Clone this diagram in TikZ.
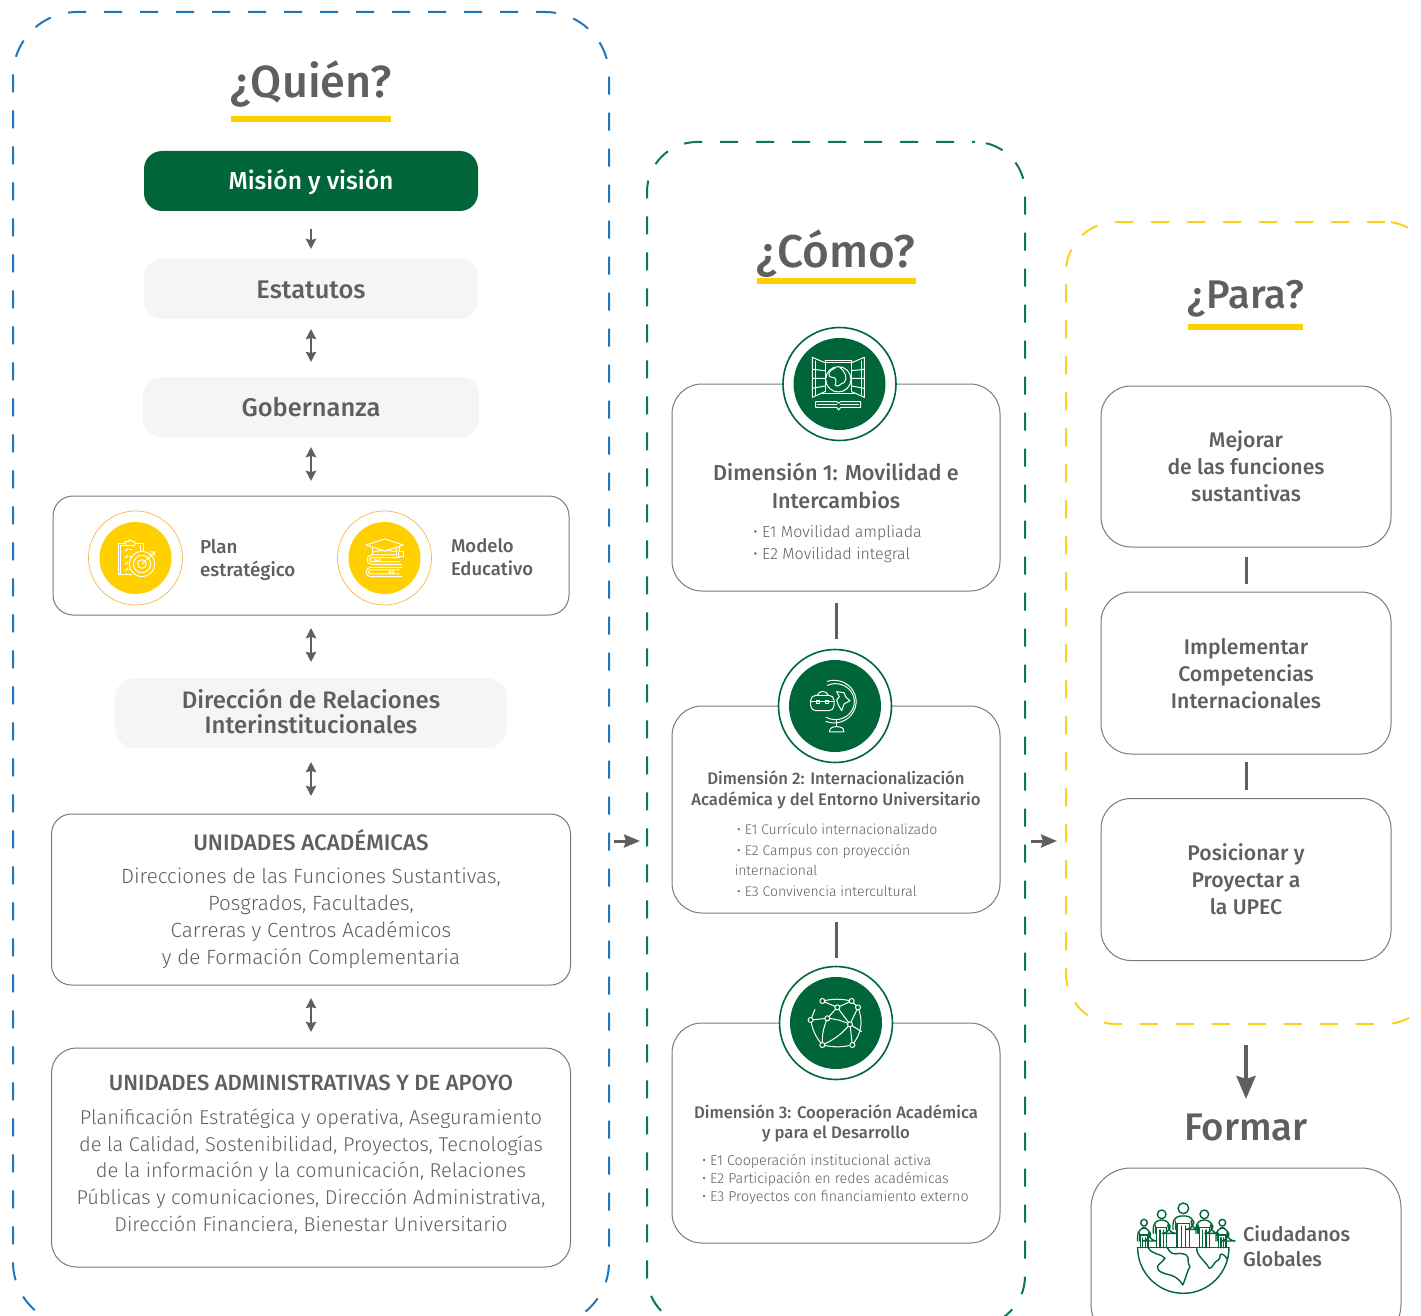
\documentclass[tikz,border=0pt]{standalone}
\usepackage{fontspec}
\setmainfont{Fira Sans}
\newfontfamily\fm{Fira Sans Medium}
\newfontfamily\fl{Fira Sans Light}
\usetikzlibrary{arrows.meta}
\definecolor{txt}{HTML}{5F5F5F}
\definecolor{ugreen}{HTML}{00663A}
\definecolor{uyellow}{HTML}{FFCF00}
\definecolor{dblue}{HTML}{1F76BC}
\definecolor{dgreen}{HTML}{0B7A4B}
\definecolor{dyellow}{HTML}{F8D21E}
\definecolor{softgray}{HTML}{F5F5F5}
\definecolor{linegray}{HTML}{7A7A7A}
\definecolor{orangeline}{HTML}{F6B84E}
\newcommand{\fsz}[1]{\fontsize{#1}{#1}\selectfont}
\newcommand{\fsl}[2]{\fontsize{#1}{#2}\selectfont}
\tikzset{
 x=1pt,y=-1pt,
 every node/.style={inner sep=0pt,outer sep=0pt,text=txt},
 dashbox/.style={draw,line width=2pt,rectangle,rounded corners=#1},
 softbox/.style={fill=softgray,rectangle,rounded corners=18pt},
 linebox/.style={draw=linegray,line width=1pt,fill=white,rectangle,rounded corners=#1},
 dbl/.style={draw=txt,line width=2.6pt,{Stealth[length=10pt,width=10pt,inset=1pt]}-{Stealth[length=10pt,width=10pt,inset=1pt]}},
 sgl/.style={draw=txt,line width=2.6pt,-{Stealth[length=10pt,width=10pt,inset=1pt]}},
 cross/.style={draw=txt,line width=3pt,-{Stealth[length=16pt,width=13pt,inset=2pt]}},
 big/.style={draw=txt,line width=4pt,-{Stealth[length=23pt,width=19pt,inset=3pt]}},
 rule/.style={draw=txt,line width=3pt},
 under/.style={fill=uyellow,rectangle},
 icon/.style={draw=white,line width=1pt,line cap=round,line join=round},
 gicon/.style={draw=ugreen,line width=1.4pt,line cap=round,line join=round},
}
\begin{document}
\begin{tikzpicture}
\clip (0,0) rectangle (1421,1316);
% dashed frames
\node[dashbox=64pt,draw=dblue,dash pattern=on 18pt off 18pt,dash phase=9pt,minimum width=596pt,minimum height=1314pt] (quien) at (311,669) {};
\node[dashbox=50pt,draw=dgreen,dash pattern=on 18pt off 18pt,dash phase=15pt,minimum width=378pt,minimum height=1184pt] (como) at (836,734) {};
\node[dashbox=50pt,draw=dyellow,dash pattern=on 18pt off 18pt,minimum width=369pt,minimum height=802pt] (para) at (1250.5,623) {};
% titles
\node[anchor=base,font=\fm\fsz{45}] (tq) at (311,98) {¿Quién?};
\node[under,minimum width=160pt,minimum height=6pt] (uq) at (311,119) {};
\node[anchor=base,font=\fm\fsz{46}] (tc) at (836,267) {¿Cómo?};
\node[under,minimum width=159pt,minimum height=6pt] (uc) at (836.5,281) {};
\node[anchor=base,font=\fm\fsz{40}] (tp) at (1246,308) {¿Para?};
\node[under,minimum width=115pt,minimum height=6pt] (up) at (1245.5,327) {};
% left column
\node[fill=ugreen,rectangle,rounded corners=18pt,minimum width=334pt,minimum height=60pt] (mision) at (311,181) {};
\node[anchor=base,text=white,font=\fm\fsz{24.6}] (tmision) at (311,190) {Misión y visión};
\node[softbox,minimum width=334pt,minimum height=60pt] (estatutos) at (311,289) {};
\node[anchor=base,font=\fm\fsz{25.5}] (testat) at (311,298) {Estatutos};
\node[softbox,minimum width=336pt,minimum height=60pt] (gober) at (311,407) {};
\node[anchor=base,font=\fm\fsz{25.5}] (tgober) at (311,416) {Gobernanza};
\node[linebox=20pt,minimum width=516pt,minimum height=119pt] (planbox) at (311,555.5) {};
\node[draw=orangeline,line width=0.7pt,circle,minimum size=94pt] (co1) at (135.5,558) {};
\node[fill=uyellow,circle,minimum size=72pt] (ci1) at (135.5,558) {};
\node[draw=orangeline,line width=0.7pt,circle,minimum size=94pt] (co2) at (384.5,558) {};
\node[fill=uyellow,circle,minimum size=72pt] (ci2) at (384.5,558) {};
\node[anchor=west,align=left,font=\fm\fsl{18.8}{23}] (tplan) at (200,559.5) {Plan\\estratégico};
\node[anchor=west,align=left,font=\fm\fsl{18.5}{23}] (tmodelo) at (451,557.5) {Modelo\\Educativo};
\node[softbox,rounded corners=20pt,minimum width=392pt,minimum height=70pt] (dri) at (311,713) {};
\node[anchor=center,align=center,font=\fm\fsl{23.9}{25}] (tdri) at (311,711) {Dirección de Relaciones\\Interinstitucionales};
\node[linebox=20pt,minimum width=519pt,minimum height=171pt] (unid) at (311,899.5) {};
\node[anchor=center,font=\fm\fsz{22.4}] (hunid) at (311,840.5) {UNIDADES ACADÉMICAS};
\node[anchor=center,align=center,font=\fl\fsl{20.6}{27}] (tunid) at (311,918.5) {Direcciones de las Funciones Sustantivas,\\Posgrados, Facultades,\\Carreras y Centros Académicos\\y de Formación Complementaria};
\node[linebox=25pt,minimum width=519pt,minimum height=219pt] (admin) at (311,1157.5) {};
\node[anchor=center,font=\fm\fsz{22}] (hadmin) at (311,1083) {UNIDADES ADMINISTRATIVAS Y DE APOYO};
\node[anchor=center,align=center,font=\fl\fsl{20}{26.8}] (tadmin) at (311,1171.5) {Planificación Estratégica y operativa, Aseguramiento\\de la Calidad, Sostenibilidad, Proyectos, Tecnologías\\de la información y la comunicación, Relaciones\\Públicas y comunicaciones, Dirección Administrativa,\\Dirección Financiera, Bienestar Universitario};
% left arrows
\draw[sgl,shorten <=18pt,shorten >=10pt] (mision.south) -- (estatutos.north);
\draw[dbl,shorten <=10pt,shorten >=15pt] (estatutos.south) -- (gober.north);
\draw[dbl,shorten <=10pt,shorten >=15pt] (gober.south) -- (planbox.north);
\draw[dbl,shorten <=13pt,shorten >=16pt] (planbox.south) -- (dri.north);
\draw[dbl,shorten <=14pt,shorten >=18pt] (dri.south) -- (unid.north);
\draw[dbl,shorten <=13pt,shorten >=16pt] (unid.south) -- (admin.north);
% arrows between frames
\coordinate (a1) at (614,841); \coordinate (a2) at (640,841);
\coordinate (a3) at (1031,841); \coordinate (a4) at (1057,841);
\draw[cross] (a1) -- (a2);
\draw[cross] (a3) -- (a4);
% middle column
\node[linebox=30pt,minimum width=328pt,minimum height=207pt] (d1) at (836,487.5) {};
\node[linebox=30pt,minimum width=328pt,minimum height=207pt] (d2) at (836,809.5) {};
\node[linebox=30pt,minimum width=328pt,minimum height=220pt] (d3) at (836,1133) {};
\node[fill=white,draw=ugreen,line width=1.6pt,circle,minimum size=113pt] (g1o) at (839.5,384) {};
\node[fill=ugreen,circle,minimum size=92pt] (g1) at (839.5,384) {};
\node[fill=white,draw=ugreen,line width=1.6pt,circle,minimum size=113pt] (g2o) at (835,706) {};
\node[fill=ugreen,circle,minimum size=92pt] (g2) at (835,706) {};
\node[fill=white,draw=ugreen,line width=1.6pt,circle,minimum size=113pt] (g3o) at (836,1023) {};
\node[fill=ugreen,circle,minimum size=92pt] (g3) at (836,1023) {};
\draw[rule,shorten <=12pt,shorten >=11pt] (d1.south) -- (d1.south |- g2o.north);
\draw[rule,shorten <=9pt,shorten >=9pt] (d2.south) -- (d2.south |- g3o.north);
\node[anchor=center,align=center,font=\fm\fsl{21.6}{28}] (td1) at (836,486) {Dimensión 1: Movilidad e\\Intercambios};
\node[anchor=west,align=left,font=\fl\fsl{16}{22}] (bd1) at (753,544.5) {• E1 Movilidad ampliada\\• E2 Movilidad integral};
\node[anchor=center,align=center,font=\fm\fsl{16.7}{21}] (td2) at (836,789.5) {Dimensión 2: Internacionalización\\Académica y del Entorno Universitario};
\node[anchor=west,align=left,font=\fl\fsl{14}{20.4}] (bd2) at (734.5,860) {\,• E1 Currículo internacionalizado\\\,• E2 Campus con proyección\\internacional\\\,• E3 Convivencia intercultural};
\node[anchor=center,align=center,font=\fm\fsl{16.7}{20.5}] (td3) at (836,1123.5) {Dimensión 3: Cooperación Académica\\y para el Desarrollo};
\node[anchor=west,align=left,font=\fl\fsl{14.3}{18}] (bd3) at (702,1179) {• E1 Cooperación institucional activa\\• E2 Participación en redes académicas\\• E3 Proyectos con financiamiento externo};
% right column
\node[linebox=30pt,minimum width=290pt,minimum height=161pt,align=center,font=\fm\fsl{21.2}{27}] (p1) at (1246,466.5) {Mejorar\\de las funciones\\sustantivas};
\node[linebox=30pt,minimum width=290pt,minimum height=162pt] (p2) at (1246,673) {};
\node[anchor=center,align=center,font=\fm\fsl{21.2}{27}] (tp2) at (1246,674) {Implementar\\Competencias\\Internacionales};
\node[linebox=30pt,minimum width=290pt,minimum height=162pt,align=center,font=\fm\fsl{21.2}{27}] (p3) at (1246,879.5) {Posicionar y\\Proyectar a\\la UPEC};
\draw[rule,shorten <=10pt,shorten >=8pt] (p1.south) -- (p2.north);
\draw[rule,shorten <=8pt,shorten >=9pt] (p2.south) -- (p3.north);
\coordinate (fa) at (1246,1045);
\coordinate (fb) at (1246,1099);
\node[anchor=base,font=\fm\fsz{38.4}] (formar) at (1246,1140) {Formar};
\draw[big] (fa) -- (fb);
\node[linebox=40pt,minimum width=310pt,minimum height=176pt] (cg) at (1246,1256) {};
\node[anchor=west,align=left,font=\fm\fsl{20}{25}] (tcg) at (1243,1246.5) {Ciudadanos\\Globales};
% Icon: plan
\begin{scope}[shift={(60,490)},x=0.3333pt,y=-0.3333pt,icon]
 \draw[white] (215,255) -- (175,255) -- (175,160) -- (195,160);
 \draw[white] (182,250) -- (182,167) -- (195,167);
 \draw[white] (250,185) -- (250,160) -- (225,160);
 \draw[white] (195,165) -- (195,155) -- (205,155) -- (210,148) -- (215,155) -- (225,155) -- (225,167) -- (195,167);
 \draw[white] (243,167) -- (243,185);
 \foreach \yy in {180,200,220,238} {\draw[white] (194,\yy) -- (198,\yy+3) -- (204,\yy-4); \draw[white] (208,\yy) -- (216,\yy);}
 \draw[white,fill=uyellow] (246,222) circle (38);
 \draw[white] (246,222) circle (26);
 \draw[white] (246,222) circle (13);
 \draw[white] (246,222) -- (284,186);
 \draw[white] (272,186) -- (284,186) -- (282,198);
\end{scope}
% Icon: books
\begin{scope}[shift={(60,490)},x=0.3333pt,y=-0.3333pt,icon]
 \draw[white] (938,172) -- (938,195) (1010,172) -- (1010,195);
 \draw[white] (938,186) .. controls (960,180) and (990,180) .. (1010,186);
 \draw[white,fill=uyellow] (918,165) -- (975,147) -- (1030,165) -- (975,183) -- cycle;
 \draw[white] (1020,168) -- (1020,185) (1016,186) rectangle (1030,200);
 \draw[white] (1012,195) -- (935,195) arc (270:90:14) -- (1025,223);
 \draw[white] (1018,203) -- (935,203) arc (270:90:6) -- (1018,215);
 \draw[white] (1025,232) -- (932,232) arc (270:90:14) -- (1025,260);
 \draw[white] (1018,240) -- (932,240) arc (270:90:6) -- (1018,252);
 \draw[white] (945,203) -- (945,215) -- (952,210) -- (959,215) -- (959,203);
 \draw[white] (988,240) -- (988,250) -- (994,246) -- (1000,250) -- (1000,240);
\end{scope}
% Icon: dimension 1
\begin{scope}[shift={(770,320)},x=0.3333pt,y=-0.3333pt,icon]
 \draw[white] (165,122) -- (245,122) (165,128) -- (245,128) (165,122) -- (165,215) (245,122) -- (245,215);
 \draw[white] (165,128) -- (127,112) -- (127,232) -- (165,215);
 \draw[white] (135,123) -- (135,225);
 \draw[white] (127,148) -- (165,152) (127,175) -- (165,175) (127,205) -- (165,198);
 \draw[white] (245,128) -- (283,112) -- (283,232) -- (245,215);
 \draw[white] (275,123) -- (275,225);
 \draw[white] (283,148) -- (245,152) (283,175) -- (245,175) (283,205) -- (245,198);
 \draw[white] (158,222) -- (252,222);
 \draw[white] (205,178) circle (38);
 \draw[white] (195,145) .. controls (175,150) and (170,170) .. (185,172) .. controls (200,170) and (200,185) .. (195,195) .. controls (205,205) and (210,190) .. (222,188) .. controls (235,175) and (225,155) .. (210,142);
 \draw[white] (137,245) -- (200,245) -- (206,250) -- (212,245) -- (272,245) -- (272,262) -- (212,262) -- (206,270) -- (200,262) -- (137,262) -- cycle;
 \draw[white] (143,254) -- (200,254) (212,254) -- (266,254);
\end{scope}
% Icon: dimension 2
\begin{scope}[shift={(770,640)},x=0.3333pt,y=-0.3333pt,icon]
 \draw[white] (172,136) arc (-115:120:57 and 54);
 \draw[white] (172,124) arc (-108:112:66 and 64);
 \draw[white] (200,242) -- (200,260);
 \draw[white] (178,276) .. controls (178,262) and (190,260) .. (200,260) .. controls (210,260) and (222,262) .. (222,276) -- cycle;
 \draw[white] (200,155) -- (222,158) -- (228,172) -- (240,182) -- (222,192) -- (215,212) -- (205,195) -- (200,180) -- (208,170) -- cycle;
 \draw[white,fill=ugreen,rounded corners=5pt] (122,166) rectangle (192,212);
 \draw[white,rounded corners=3pt] (142,166) -- (146,155) -- (170,155) -- (174,166);
 \draw[white] (124,184) -- (190,184);
 \draw[white] (140,180) rectangle (148,190) (166,180) rectangle (174,190);
\end{scope}
% Icon: dimension 3
\begin{scope}[shift={(770,960)},x=0.3333pt,y=-0.3333pt,icon]
 \coordinate (n1) at (157,123); \coordinate (n2) at (245,123); \coordinate (n3) at (202,142);
 \coordinate (n4) at (264,142); \coordinate (n5) at (122,180); \coordinate (n6) at (172,175);
 \coordinate (n7) at (240,193); \coordinate (n8) at (157,255); \coordinate (n9) at (247,255);
 \draw[white] (n1) to[bend left=12] (n2);
 \draw[white] (n1) -- (n3) -- (n2) (n3) -- (n6) (n3) -- (n7);
 \draw[white] (n2) -- (n4) -- (n7) (n5) -- (n6) (n6) to[bend left=10] (n7) (n6) to[bend right=12] (n8);
 \draw[white] (n7) to[bend left=12] (n8) (n7) -- (n9) (n7) -- (275,215);
 \draw[white] (n5) to[bend right=14] (n8);
 \draw[white] (n8) to[bend right=12] (n9);
 \draw[white] (n4) to[bend left=30] (n9);
 \draw[white] (n5) -- (135,148);
 \foreach \nn in {n1,n2,n3,n4,n5,n6,n7,n8,n9} {\draw[white,fill=ugreen] (\nn) circle (7.5);}
\end{scope}
% Icon: global citizens
\begin{scope}[shift={(1090,1160)},x=0.3333pt,y=-0.3333pt,gicon]
 \draw[ugreen] (143,263) -- (417,263);
 \draw[ugreen] (143,263) arc (180:0:137);
 \draw[ugreen] (175,263) .. controls (185,285) and (215,280) .. (225,295) .. controls (215,310) and (195,315) .. (205,330) .. controls (225,350) and (255,335) .. (278,375) .. controls (290,350) and (290,335) .. (300,320) .. controls (285,300) and (310,285) .. (270,280) .. controls (250,285) and (240,280) .. (232,263);
 \draw[ugreen] (320,263) .. controls (320,290) and (340,295) .. (358,325) .. controls (370,325) and (370,305) .. (385,300) .. controls (395,290) and (385,285) .. (395,282) .. controls (405,285) and (410,295) .. (412,298);
 \foreach \cx/\hy/\hr/\w/\tp in {280/145/16/31/168,215/163/13/25/180,343/163/13/25/180,162/188/10/19/203,397/188/10/19/203}{
  \draw[ugreen] (\cx,\hy) circle (\hr);
  \draw[ugreen,rounded corners=8pt] (\cx-\w,\tp+40) -- (\cx-\w,\tp) -- (\cx+\w,\tp) -- (\cx+\w,\tp+40) -- (\cx+\w*0.75,\tp+40) -- (\cx+\w*0.75,\tp+15);
  \draw[ugreen] (\cx-\w*0.75,\tp+40) -- (\cx-\w*0.75,\tp+15);
  \draw[ugreen] (\cx-\w*0.6,\tp+22) -- (\cx-\w*0.6,263) (\cx+\w*0.6,\tp+22) -- (\cx+\w*0.6,263) (\cx-\w*0.2,\tp+30) -- (\cx-\w*0.2,263) (\cx+\w*0.2,\tp+30) -- (\cx+\w*0.2,263);
  \draw[ugreen] (\cx-\w*0.6,\tp+22) -- (\cx+\w*0.6,\tp+22);
 }
\end{scope}
\end{tikzpicture}
\end{document}
